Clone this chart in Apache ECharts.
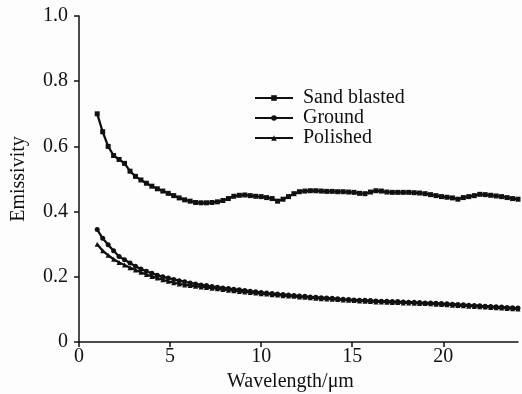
<!DOCTYPE html>
<html>
<head>
<meta charset="utf-8">
<script src="https://cdn.jsdelivr.net/npm/echarts@6/dist/echarts.min.js"></script>
<style>
  html, body { margin: 0; padding: 0; background: #fdfdfd; }
  #chart { width: 522px; height: 394px; }
</style>
</head>
<body>
<div id="chart"></div>
<script>
// Wavelength samples (µm)
const wavelength = [1.0,1.3,1.6,1.9,2.2,2.5,2.8,3.1,3.4,3.7,4.0,4.3,4.6,4.9,5.2,5.5,5.8,6.1,6.4,6.7,
  7.0,7.3,7.6,7.9,8.2,8.5,8.8,9.1,9.4,9.7,10.0,10.3,10.6,10.9,11.2,11.5,11.8,12.1,12.4,12.7,
  13.0,13.3,13.6,13.9,14.2,14.5,14.8,15.1,15.4,15.7,16.0,16.3,16.6,16.9,17.2,17.5,17.8,18.1,18.4,18.7,
  19.0,19.3,19.6,19.9,20.2,20.5,20.8,21.1,21.4,21.7,22.0,22.3,22.6,22.9,23.2,23.5,23.8,24.1];

// Emissivity of each surface finish
const sandBlasted = [0.700,0.645,0.600,0.572,0.560,0.548,0.524,0.508,0.497,0.487,0.478,0.470,0.463,0.456,0.449,0.442,0.436,0.432,0.428,0.427,
  0.427,0.428,0.430,0.434,0.440,0.447,0.450,0.451,0.449,0.447,0.446,0.443,0.440,0.432,0.438,0.446,0.455,0.461,0.463,0.464,
  0.464,0.463,0.462,0.462,0.461,0.461,0.460,0.459,0.456,0.455,0.460,0.464,0.463,0.460,0.459,0.459,0.459,0.459,0.458,0.457,
  0.455,0.452,0.449,0.446,0.444,0.442,0.438,0.443,0.446,0.449,0.453,0.452,0.450,0.448,0.446,0.443,0.440,0.438];

const ground = [0.345,0.318,0.298,0.280,0.262,0.252,0.242,0.232,0.224,0.217,0.211,0.205,0.200,0.196,0.192,0.188,0.185,0.181,0.178,0.175,
  0.173,0.170,0.168,0.166,0.164,0.162,0.160,0.158,0.156,0.154,0.152,0.150,0.149,0.147,0.146,0.144,0.143,0.141,0.140,0.138,
  0.137,0.136,0.135,0.134,0.133,0.131,0.130,0.129,0.128,0.128,0.127,0.126,0.125,0.125,0.124,0.124,0.123,0.122,0.122,0.121,
  0.120,0.120,0.119,0.118,0.117,0.116,0.115,0.114,0.113,0.112,0.111,0.110,0.109,0.108,0.107,0.106,0.105,0.104];

const polished = [0.300,0.280,0.266,0.254,0.244,0.236,0.228,0.221,0.214,0.207,0.201,0.196,0.191,0.186,0.182,0.178,0.175,0.173,0.171,0.169,
  0.167,0.165,0.163,0.161,0.159,0.157,0.155,0.153,0.152,0.150,0.148,0.147,0.145,0.144,0.142,0.141,0.140,0.138,0.137,0.136,
  0.134,0.133,0.132,0.131,0.130,0.129,0.128,0.127,0.126,0.125,0.124,0.123,0.123,0.122,0.121,0.121,0.120,0.120,0.119,0.118,
  0.118,0.117,0.116,0.115,0.114,0.113,0.112,0.111,0.110,0.109,0.108,0.107,0.106,0.105,0.104,0.103,0.102,0.101];

// Axis ticks
const xTicks = [0, 5, 10, 15, 20];
const yTicks = [0, 0.2, 0.4, 0.6, 0.8, 1.0];

const pair = (ys) => wavelength.map((x, i) => [x, ys[i]]);
const font = '"Liberation Serif", "Times New Roman", serif';
const ink = '#111';

const mkSeries = (name, ys, symbol, size) => ({
  name, type: 'line', data: pair(ys),
  symbol, symbolSize: size, showSymbol: true,
  lineStyle: { color: ink, width: 2.3 },
  itemStyle: { color: ink, borderWidth: 0 },
  animation: false
});

const chart = echarts.init(document.getElementById('chart'), null, { renderer: 'canvas' });
chart.setOption({
  backgroundColor: '#fdfdfd',
  animation: false,
  grid: { left: 79, top: 16, right: 4, bottom: 52, containLabel: false, outerBoundsMode: 'none' },
  legend: {
    orient: 'vertical', left: 249, top: 83,
    itemWidth: 38, itemHeight: 7, itemGap: 0,
    textStyle: { fontFamily: font, fontSize: 20, color: ink, padding: [0, 0, 0, 5] },
    data: ['Sand blasted', 'Ground', 'Polished']
  },
  xAxis: {
    type: 'value', min: 0, max: 24.1,
    name: 'Wavelength/\u03bcm', nameLocation: 'middle', nameGap: 25,
    nameTextStyle: { fontFamily: font, fontSize: 20, color: ink, padding: [0, 16, 0, 0] },
    axisLine: { show: true, lineStyle: { color: ink, width: 1.5 } },
    axisTick: { show: true, customValues: xTicks, length: 5, lineStyle: { color: ink, width: 1.5 } },
    axisLabel: { customValues: xTicks, margin: 5, fontFamily: font, fontSize: 20, color: ink },
    splitLine: { show: false }
  },
  yAxis: {
    type: 'value', min: 0, max: 1.0,
    name: 'Emissivity', nameLocation: 'middle', nameGap: 50, nameRotate: 90,
    nameTextStyle: { fontFamily: font, fontSize: 20, color: ink },
    axisLine: { show: true, lineStyle: { color: ink, width: 1.5 } },
    axisTick: { show: true, customValues: yTicks, length: 5, lineStyle: { color: ink, width: 1.5 } },
    axisLabel: {
      customValues: yTicks, margin: 11, fontFamily: font, fontSize: 20, color: ink,
      formatter: (v) => (v === 0 ? '0' : v.toFixed(1))
    },
    splitLine: { show: false }
  },
  series: [
    mkSeries('Sand blasted', sandBlasted, 'rect', 5),
    mkSeries('Ground', ground, 'circle', 5),
    mkSeries('Polished', polished, 'triangle', 5)
  ]
});
</script>
</body>
</html>
